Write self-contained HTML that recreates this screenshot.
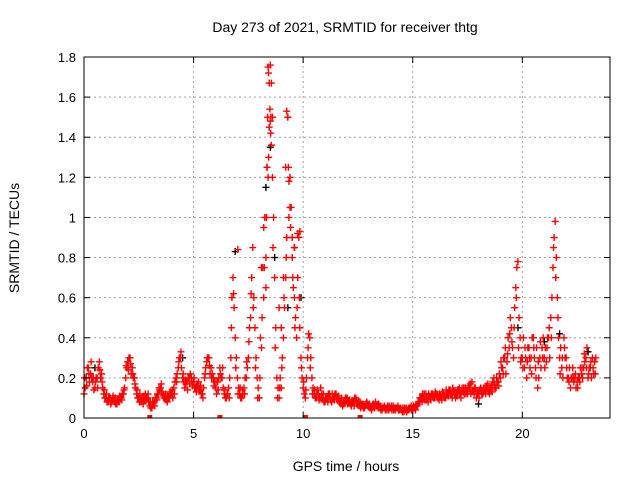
<!DOCTYPE html>
<html><head><meta charset="utf-8"><style>
body{margin:0;background:#fff}
svg{display:block;font-family:"Liberation Sans",Arial,sans-serif}
</style></head><body>
<svg id="chart" width="640" height="480" xmlns="http://www.w3.org/2000/svg">
<rect width="640" height="480" fill="#fff"/>
<text x="345" y="32" font-size="14" text-anchor="middle">Day 273 of 2021, SRMTID for receiver thtg</text>
<g id="grid"></g><g id="pts"></g><g id="axes"></g>
<text x="346" y="471" font-size="14" text-anchor="middle">GPS time / hours</text>
<text transform="translate(19,238) rotate(-90)" font-size="14" text-anchor="middle">SRMTID / TECUs</text>
</svg>
<script>
const xTicks=[0,5,10,15,20];
const yTicks=[0,0.2,0.4,0.6,0.8,1,1.2,1.4,1.6,1.8];
const yTickLabels=["0","0.2","0.4","0.6","0.8","1","1.2","1.4","1.6","1.8"];
const redA=[0.12,0.2,0.25,0.22,0.18,0.15,0.2,0.28,0.22,0.12,
0.1,0.08,0.1,0.09,0.08,0.07,0.08,0.1,0.12,0.2,
0.28,0.3,0.25,0.2,0.12,0.1,0.08,0.07,0.12,0.1,
0.06,0.05,0.08,0.1,0.12,0.15,0.12,0.1,0.08,0.1,
0.12,0.15,0.2,0.25,0.3,0.2,0.15,0.18,0.2,0.2,
0.18,0.15,0.16,0.14,0.12,0.2,0.28,0.3,0.25,0.2,
0.15,0.18,0.25,0.2,0.12,0.1,0.15,0.3,0.7,0.4,
0.2,0.12,0.1,0.15,0.2,0.3,0.5,0.85,0.45,0.2,
0.1,0.35,0.6,0.8,1.2,1.76,1.5,0.7,0.2,0.1,
0.15,0.4,0.7,1.5,1.2,0.8,0.6,0.4,0.9,0.3,
0.15,0.1,0.3,0.4,0.2,0.12,0.1,0.12,0.15,0.1,
0.08,0.1,0.12,0.08,0.1,0.12,0.1,0.08,0.06,0.08,
0.1,0.08,0.06,0.08,0.1,0.07,0.08,0.06,0.05,0.08,
0.06,0.05,0.07,0.08,0.06,0.05,0.04,0.06,0.05,0.04,
0.05,0.06,0.04,0.05,0.04,0.04,0.03,0.05,0.04,0.05,
0.04,0.05,0.06,0.08,0.1,0.1,0.12,0.08,0.1,0.12,
0.1,0.12,0.09,0.1,0.12,0.1,0.12,0.14,0.1,0.12,
0.12,0.14,0.1,0.13,0.15,0.12,0.15,0.18,0.12,0.1,
0.12,0.15,0.12,0.14,0.15,0.12,0.16,0.2,0.15,0.18,
0.2,0.25,0.3,0.28,0.35,0.45,0.3,0.65,0.78,0.4,
0.3,0.25,0.2,0.35,0.3,0.4,0.25,0.15,0.3,0.35,
0.3,0.28,0.4,0.5,0.75,0.98,0.6,0.3,0.25,0.4,
0.3,0.2,0.15,0.25,0.2,0.18,0.2,0.22,0.25,0.3,
0.2,0.25,0.3,0.28];
const redB=[0.15,0.25,0.18,0.2,0.14,0.2,0.25,0.2,0.15,0.1,
0.08,0.1,0.08,0.1,0.07,0.09,0.1,0.12,0.15,0.25,
0.3,0.22,0.2,0.15,0.1,0.12,0.1,0.09,0.1,0.08,
0.05,0.07,0.1,0.12,0.14,0.13,0.1,0.09,0.1,0.12,
0.1,0.18,0.22,0.3,0.25,0.18,0.17,0.2,0.22,0.16,
0.15,0.17,0.14,0.12,0.15,0.25,0.3,0.22,0.22,0.18,
0.12,0.2,0.2,0.15,0.1,0.12,0.2,0.6,0.55,0.3,
0.15,0.1,0.12,0.2,0.25,0.45,0.7,0.6,0.3,0.15,
0.4,0.75,1.0,1.25,1.45,1.67,1.0,0.45,0.15,0.2,
0.3,0.55,0.9,1.0,1.05,0.65,0.5,0.7,0.45,0.2,
0.12,0.2,0.42,0.3,0.15,0.1,0.14,0.1,0.12,0.08,
0.1,0.12,0.09,0.1,0.12,0.09,0.08,0.1,0.07,0.09,
0.08,0.07,0.08,0.1,0.07,0.06,0.07,0.05,0.07,0.06,
0.05,0.06,0.05,0.06,0.07,0.04,0.05,0.04,0.06,0.05,
0.04,0.05,0.05,0.04,0.05,0.05,0.04,0.04,0.05,0.04,
0.05,0.06,0.08,0.1,0.12,0.09,0.1,0.11,0.12,0.1,
0.12,0.1,0.11,0.13,0.1,0.12,0.14,0.12,0.13,0.1,
0.14,0.12,0.15,0.12,0.13,0.16,0.12,0.14,0.15,0.12,
0.14,0.12,0.15,0.16,0.13,0.14,0.18,0.15,0.18,0.22,
0.25,0.3,0.22,0.4,0.5,0.35,0.55,0.75,0.5,0.3,
0.4,0.3,0.35,0.25,0.4,0.3,0.35,0.2,0.25,0.4,
0.35,0.4,0.3,0.6,0.9,0.8,0.4,0.35,0.2,0.3,
0.2,0.25,0.2,0.18,0.15,0.2,0.25,0.2,0.28,0.35,
0.25,0.2,0.22,0.3];
const redC=[0.2,0.16,0.22,0.28,0.2,0.18,0.15,0.24,0.18,0.14,
0.12,0.1,0.07,0.11,0.1,0.09,0.11,0.09,0.14,0.26,
0.24,0.27,0.22,0.17,0.14,0.08,0.09,0.11,0.09,0.12,
0.08,0.08,0.06,0.09,0.15,0.17,0.11,0.12,0.11,0.13,
0.14,0.12,0.18,0.28,0.33,0.22,0.19,0.14,0.17,0.18,
0.2,0.13,0.18,0.16,0.1,0.22,0.3,0.26,0.2,0.16,
0.18,0.14,0.22,0.25,0.14,0.12,0.1,0.45,0.62,0.25,
0.12,0.15,0.14,0.12,0.28,0.38,0.62,0.55,0.25,0.1,
0.2,0.5,0.75,1.0,1.3,1.5,0.85,0.35,0.1,0.15,
0.25,0.6,0.8,1.25,0.95,0.7,0.45,0.55,0.6,0.25,
0.18,0.14,0.35,0.25,0.12,0.14,0.12,0.09,0.1,0.12,
0.1,0.08,0.1,0.12,0.09,0.1,0.11,0.07,0.08,0.1,
0.07,0.09,0.08,0.06,0.09,0.08,0.05,0.07,0.06,0.07,
0.07,0.04,0.06,0.06,0.05,0.06,0.05,0.05,0.04,0.06,
0.06,0.04,0.05,0.06,0.05,0.03,0.05,0.03,0.05,0.06,
0.06,0.04,0.07,0.1,0.08,0.12,0.09,0.12,0.09,0.11,
0.13,0.11,0.12,0.09,0.11,0.14,0.11,0.12,0.15,0.13,
0.11,0.15,0.13,0.15,0.12,0.14,0.17,0.13,0.15,0.13,
0.1,0.14,0.13,0.12,0.17,0.15,0.13,0.17,0.2,0.16,
0.28,0.22,0.35,0.32,0.42,0.38,0.45,0.6,0.35,0.28,
0.25,0.35,0.28,0.3,0.22,0.35,0.2,0.28,0.38,0.3,
0.25,0.35,0.45,0.4,0.85,0.7,0.5,0.22,0.3,0.35,
0.25,0.18,0.2,0.2,0.22,0.15,0.18,0.25,0.32,0.25,
0.22,0.28,0.25,0.22];
const spikeT=[8.40,8.42,8.45,8.48,8.50,8.38,8.52,8.55,8.35,8.60,9.25,9.30,9.20,9.40,9.35,9.50,9.60,9.75,9.85,7.02,8.1,8.2,8.3,8.9,9.0,9.1];
const spikeV=[1.75,1.72,1.67,1.54,1.48,1.5,1.42,1.36,1.25,1.2,1.53,1.5,1.25,1.05,1.18,0.9,0.85,0.92,0.93,0.84,0.75,0.95,0.65,0.55,0.45,0.7];
const blackT=[0.5,2.0,4.5,6.9,8.3,8.5,8.7,9.3,9.6,9.9,12,15,18,19.8,20.5,21.0,21.7,23.0];
const blackV=[0.25,0.28,0.3,0.83,1.15,1.35,0.8,0.55,0.85,0.6,0.1,0.05,0.07,0.45,0.4,0.38,0.42,0.33];
const zeroT=[3.0,6.2,10.1,12.6];
const X0=84,X1=610,Y0=418,Y1=57;
const xs=t=>X0+t/24*(X1-X0);
const ys=v=>Y0-v/1.8*(Y0-Y1);
const NS="http://www.w3.org/2000/svg";
function mk(tag,attrs,parent){const e=document.createElementNS(NS,tag);for(const k in attrs)e.setAttribute(k,attrs[k]);parent.appendChild(e);return e;}
const grid=document.getElementById('grid'),axes=document.getElementById('axes'),pts=document.getElementById('pts');
yTicks.forEach((v,i)=>{const y=ys(v);
 if(i>0&&i<yTicks.length-1){const g=mk('line',{x1:X0,x2:X1,y1:y,y2:y,stroke:'#a0a0a0','stroke-dasharray':'2,3'},grid);
 
 }
 const t=mk('text',{x:X0-8,y:y+5,'font-size':13,'text-anchor':'end'},axes);t.textContent=yTickLabels[i];
 
 
 mk('line',{x1:X0,x2:X0+6,y1:y,y2:y,stroke:'#000'},axes);mk('line',{x1:X1,x2:X1-6,y1:y,y2:y,stroke:'#000'},axes);});
xTicks.forEach((v)=>{const x=xs(v);
 if(v>0){const g=mk('line',{x1:x,x2:x,y1:Y0,y2:Y1,stroke:'#a0a0a0','stroke-dasharray':'2,3'},grid);
 
 }
 const t=mk('text',{x:x,y:Y0+20,'font-size':13,'text-anchor':'middle'},axes);t.textContent=String(v);
 
 
 mk('line',{x1:x,x2:x,y1:Y0,y2:Y0-6,stroke:'#000'},axes);mk('line',{x1:x,x2:x,y1:Y1,y2:Y1+6,stroke:'#000'},axes);});
const frame=mk('rect',{x:X0,y:Y1,width:X1-X0,height:Y0-Y1,fill:'none',stroke:'#000'},axes);


function plus(t,v,col,name){const x=xs(t),y=ys(v);
 const p=mk('path',{d:`M${x-3.5} ${y}h7M${x} ${y-3.5}v7`,stroke:col,'stroke-width':1.4,fill:'none'},pts);
 
 }
blackT.forEach((t,i)=>plus(t,blackV[i],'#000','black-point'));
redA.forEach((v,i)=>plus(i*0.1,v,'#f00','red-point'));
redB.forEach((v,i)=>plus(i*0.1+0.05,v,'#f00','red-point'));
redC.forEach((v,i)=>plus(i*0.1+0.025,v,'#f00','red-point'));
spikeT.forEach((t,i)=>plus(t,spikeV[i],'#f00','red-point'));
zeroT.forEach(t=>{const r=mk('rect',{x:xs(t)-2.5,y:Y0-3,width:5,height:3,fill:'#f00'},pts);
 
 });
</script>
</body></html>
